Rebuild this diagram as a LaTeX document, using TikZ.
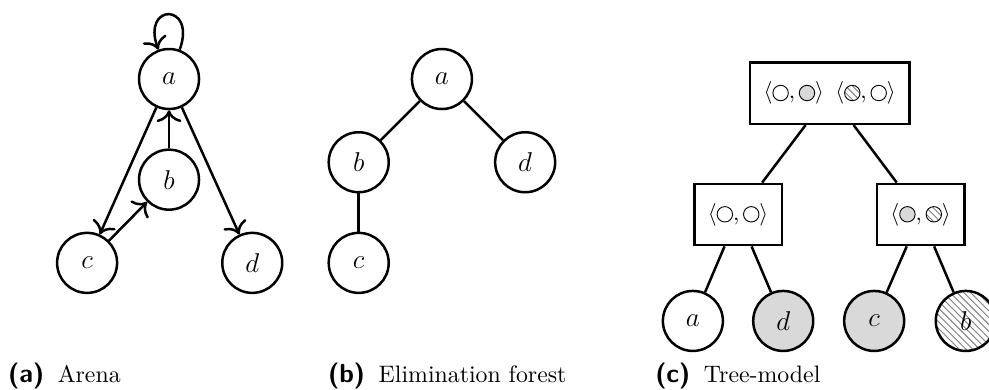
\documentclass[tikz,border=0pt]{standalone}
\usetikzlibrary{patterns,arrows.meta}

\newcommand{\wtok}{\tikz[baseline=-0.6ex]\draw[thin] (0,0) circle (3.4pt);}
\newcommand{\gtok}{\tikz[baseline=-0.6ex]\draw[thin, fill=gray!30] (0,0) circle (3.4pt);}
\newcommand{\htok}{\tikz[baseline=-0.6ex]\draw[thin, pattern=north west lines, pattern color=gray] (0,0) circle (3.4pt);}
\newcommand{\sublabel}[1]{{\fontsize{11.5}{12}\sffamily\bfseries\selectfont(#1)}\hspace{6pt}}

\begin{document}
\begin{tikzpicture}[
		>={To[scale=1.3]},
		vertex/.style={draw, circle, line width=1.1pt, minimum size=0.93cm, inner sep=0pt, font=\large},
		bag/.style={draw, line width=1.1pt, minimum height=0.95cm, inner xsep=6pt},
		link/.style={line width=1.1pt},
		caption/.style={anchor=base west, inner sep=0pt, font=\fontsize{10.5}{12}\selectfont}
	]
		\useasboundingbox (0,0) rectangle (15.33,6.045);
		% (a) arena
		\node[vertex] (aa) at (2.62,4.82) {$a$};
		\node[vertex] (ab) at (2.62,3.26) {$b$};
		\node[vertex] (ac) at (1.35,1.97) {$c$};
		\node[vertex] (ad) at (3.91,1.97) {$d$};
		\draw[link,->] (aa) to[out=70,in=110,looseness=6] (aa);
		\draw[link,->] (aa) -- (ac);
		\draw[link,->] (ab) -- (aa);
		\draw[link,->] (ac) -- (ab);
		\draw[link,->] (aa) -- (ad);
		\node[caption] (capa) at (0.12,0.11) {\sublabel{a}Arena};
		% (b) elimination forest
		\node[vertex] (ea) at (6.85,4.82) {$a$};
		\node[vertex] (eb) at (5.56,3.53) {$b$};
		\node[vertex] (ed) at (8.14,3.53) {$d$};
		\node[vertex] (ec) at (5.56,1.97) {$c$};
		\draw[link] (ea) -- (eb);
		\draw[link] (ea) -- (ed);
		\draw[link] (eb) -- (ec);
		\node[caption] (capb) at (5.08,0.11) {\sublabel{b}Elimination forest};
		% (c) tree-model
		\node[bag] (root) at (12.86,4.60) {$\langle \wtok, \gtok \rangle \enskip \langle \htok, \wtok \rangle$};
		\node[bag] (lbag) at (11.44,2.72) {$\langle \wtok, \wtok \rangle$};
		\node[bag] (rbag) at (14.27,2.72) {$\langle \gtok, \htok \rangle$};
		\node[vertex] (la) at (10.74,1.07) {$a$};
		\node[vertex, fill=gray!30] (ld) at (12.14,1.07) {$d$};
		\node[vertex, fill=gray!30] (lc) at (13.55,1.07) {$c$};
		\node[vertex, pattern=north west lines, pattern color=gray] (lb) at (14.97,1.07) {$b$};
		\draw[link] (root) -- (lbag);
		\draw[link] (root) -- (rbag);
		\draw[link] (lbag) -- (la);
		\draw[link] (lbag) -- (ld);
		\draw[link] (rbag) -- (lc);
		\draw[link] (rbag) -- (lb);
		\node[caption] (capc) at (10.15,0.11) {\sublabel{c}Tree-model};
	\end{tikzpicture}
\end{document}
